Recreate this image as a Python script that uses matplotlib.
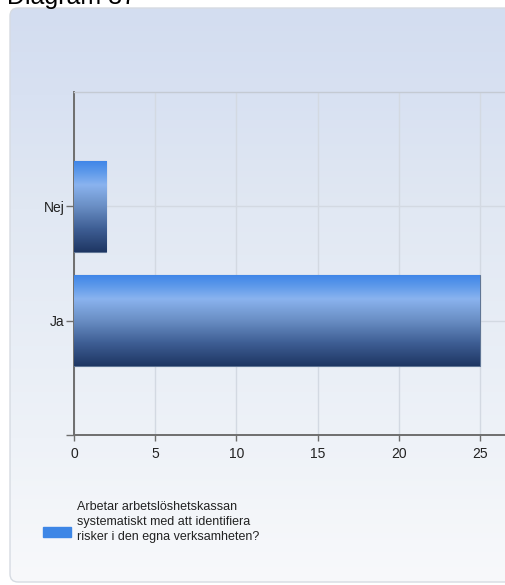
import matplotlib.pyplot as plt
import matplotlib.patches as mpatches
from matplotlib.colors import LinearSegmentedColormap
import numpy as np

# answers and counts
categories = ["Ja", "Nej"]
counts = [25, 2]
series_label = ("Arbetar arbetslöshetskassan\n"
                "systematiskt med att identifiera\n"
                "risker i den egna verksamheten?")
x_ticks = [0, 5, 10, 15, 20, 25]
title = "Diagram 37"

bar_color = "#3d86e6"
W, H = 506, 585

plt.rcParams['font.family'] = ['Liberation Sans', 'DejaVu Sans']

fig = plt.figure(figsize=(W / 100, H / 100), dpi=100)
fig.patch.set_facecolor("white")

# rounded panel with soft blue gradient behind everything
bg = fig.add_axes([0, 0, 1, 1], zorder=0)
bg.set_xlim(0, W)
bg.set_ylim(H, 0)
bg.axis("off")
panel_cmap = LinearSegmentedColormap.from_list(
    "panel",
    [(0.0, "#d3ddf0"), (0.15, "#d8e1f2"), (0.35, "#e1e8f3"),
     (0.75, "#eef2f8"), (1.0, "#f8f9fb")])
grad = np.linspace(0, 1, 256).reshape(-1, 1)
panel = mpatches.FancyBboxPatch((10, 8), 560, 574,
                                boxstyle="round,pad=0,rounding_size=8",
                                fc="none", ec="#d6dbe2", lw=1)
bg.add_patch(panel)
img = bg.imshow(grad, cmap=panel_cmap, aspect="auto",
                extent=(10, 570, 582, 8), interpolation="bilinear")
img.set_clip_path(panel)

# heading sits mostly above the top edge
fig.text(7 / W, 1 - 4 / H, title, fontsize=18, va="baseline", ha="left",
         color="black")

# plot area runs past the right edge of the figure
left, right, top, bottom = 74, 561, 92, 435
ax = fig.add_axes([left / W, 1 - bottom / H, (right - left) / W, (bottom - top) / H],
                  zorder=1)
ax.patch.set_alpha(0)

ypos = np.arange(len(categories))
bars = ax.barh(ypos, counts, height=0.8, color=bar_color,
               edgecolor="#5f7595", linewidth=0.8, zorder=3)

bar_cmap = LinearSegmentedColormap.from_list(
    "bar",
    [(0.0, "#3d84e8"), (0.12, "#5b98ea"), (0.27, "#8ab3ef"), (0.5, "#6a8fc5"),
     (0.75, "#3e5e94"), (1.0, "#1e3663")])
for b in bars:
    x0, y0 = b.get_x(), b.get_y()
    w, h = b.get_width(), b.get_height()
    im = ax.imshow(grad, cmap=bar_cmap, aspect="auto", interpolation="bilinear",
                   extent=(x0, x0 + w, y0, y0 + h), origin="upper", zorder=3.5)
    im.set_clip_path(b)
ax.set_xlim(0, 30)
ax.set_ylim(-1, 2)

ax.set_xticks(x_ticks)
ax.set_xticklabels([str(t) for t in x_ticks])
ax.set_yticks([-1] + list(ypos))
ax.set_yticklabels([""] + categories)
ax.grid(True, color="#d3d9e2", linewidth=1, zorder=1)
ax.set_axisbelow(True)

for s in ["left", "bottom"]:
    ax.spines[s].set_color("#6e6e6e")
    ax.spines[s].set_linewidth(1.4)
ax.spines["top"].set_color("#c4cad3")
ax.spines["top"].set_linewidth(1)
ax.spines["right"].set_visible(False)

ax.tick_params(axis="x", length=4, width=1, color="#6e6e6e", pad=5,
               labelsize=10, labelcolor="#222222")
ax.tick_params(axis="y", length=6, width=1, color="#6e6e6e", pad=1,
               labelsize=10, labelcolor="#222222")

# legend drawn by hand so the swatch sits beside the middle line
fig.patches.append(mpatches.Rectangle((43 / W, 1 - 537 / H), 28 / W, 10 / H,
                                      transform=fig.transFigure,
                                      color=bar_color, zorder=2))
fig.text(77 / W, 1 - 522 / H, series_label, fontsize=9, va="center",
         ha="left", color="#222222", linespacing=1.38, zorder=2)

fig.savefig("out.png", dpi=100)
